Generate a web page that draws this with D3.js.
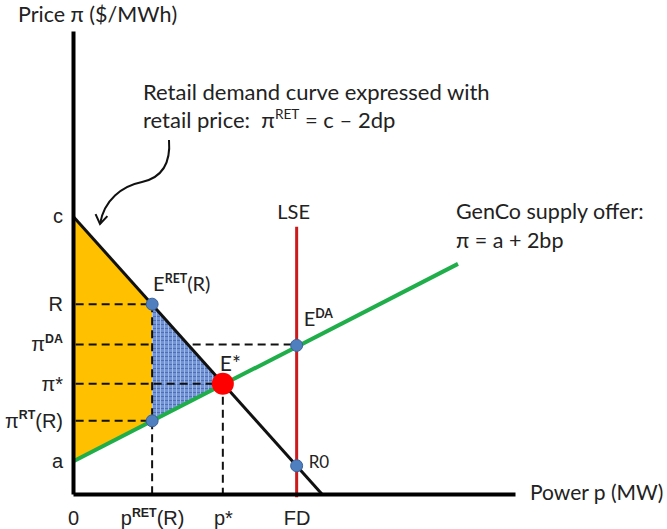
<!DOCTYPE html>
<html>
<head>
<meta charset="utf-8">
<script src="https://cdn.jsdelivr.net/npm/d3@7"></script>
<style>
  body { margin: 0; background: #fff; }
  svg { font-family: Lato, "Open Sans", sans-serif; }
  text { white-space: pre; }
</style>
</head>
<body>
<svg id="chart" width="667" height="529"></svg>
<script>
// price axis labels (π, $/MWh) and where they sit
const yTickLabels = ['c', 'R', 'π^{DA}', 'π*', 'π^{RT}(R)', 'a'];
const yTickValues = [60, 41, 32.3, 23.8, 15.8, 7];
// power axis labels (p, MW)
const xTickLabels = ['0', 'p^{RET}(R)', 'p*', 'FD'];
const xTickValues = [0, 17.9, 33.9, 50.6];

// curves, as [p, π] end points
const demandLine = [[0, 60], [56.3, 0]];
const supplyLine = [[0, 7], [87.1, 49.7]];
const lseLine = [[50.6, 57.7], [50.6, -0.7]];

// marked points
const pointNames = ['E^{RET}(R)', '', 'E^{DA}', 'R0'];
const pointP = [17.9, 17.9, 50.6, 50.6];
const pointPi = [41, 15.8, 32.1, 6.1];
const eStar = [33.9, 23.8];

const FS = 20, NOTE = 21.5;
const svg = d3.select('#chart');
const x = d3.scaleLinear().domain([0, 100]).range([73, 515]);
const y = d3.scaleLinear().domain([0, 100]).range([494, 31]);
const line = d3.line().x(d => x(d[0])).y(d => y(d[1]));

// writes "π^{DA}" style text as tspans with a raised part
function richText(sel, str, fs, boldSup) {
    sel.text(null);
    let raised = false;
    str.split(/\^\{([^}]*)\}/).forEach((part, i) => {
        if (part === '') return;
        const t = sel.append('tspan').text(part);
        if (i % 2 === 1) {
            t.attr('font-size', fs * 0.62).attr('dy', -fs * 0.42)
             .attr('font-weight', boldSup ? 700 : null);
            raised = true;
        } else if (raised) {
            t.attr('dy', fs * 0.42);
            raised = false;
        }
    });
}

const defs = svg.append('defs');
const pat = defs.append('pattern').attr('id', 'weave')
    .attr('width', 4).attr('height', 4).attr('patternUnits', 'userSpaceOnUse');
pat.append('rect').attr('width', 4).attr('height', 4).attr('fill', '#7394d3');
pat.append('path').attr('d', 'M0,0.5H4').attr('stroke', '#4d6fb3').attr('stroke-width', 1);
pat.append('path').attr('d', 'M0.5,0V4').attr('stroke', '#a3bbea').attr('stroke-width', 1);
defs.append('marker').attr('id', 'arrow')
    .attr('viewBox', '-10 -7 12 14').attr('refX', 0).attr('refY', 0)
    .attr('markerWidth', 12).attr('markerHeight', 14)
    .attr('markerUnits', 'userSpaceOnUse').attr('orient', 'auto')
    .append('path').attr('d', 'M-9,-6L0,0L-9,6')
    .attr('fill', 'none').attr('stroke', '#111').attr('stroke-width', 2);

// consumer area (yellow) and the woven triangle
const yellowArea = [[0, demandLine[0][1]], [pointP[0], pointPi[0]], [pointP[1], pointPi[1]], [0, supplyLine[0][1]]];
const blueArea = [[pointP[0], pointPi[0]], eStar, [pointP[1], pointPi[1]]];

svg.append('path').attr('d', line(yellowArea) + 'Z').attr('fill', '#ffc000');

const dash = (pts) => svg.append('path').attr('d', line(pts))
    .attr('fill', 'none').attr('stroke', '#111')
    .attr('stroke-width', 2).attr('stroke-dasharray', '8,5');

dash([[0.6, yTickValues[2]], [pointP[2], yTickValues[2]]]);
svg.append('path').attr('d', line(blueArea) + 'Z').attr('fill', 'url(#weave)');
dash([[0.6, pointPi[0]], [pointP[0], pointPi[0]]]);
dash([[0.6, eStar[1]], eStar]);
dash([[0.6, pointPi[1]], [pointP[1], pointPi[1]]]);
dash([[pointP[0], pointPi[0]], [pointP[0], 0]]);
dash([eStar, [eStar[0], 0]]);

svg.append('path').attr('d', line(demandLine)).attr('stroke', '#111').attr('stroke-width', 3);
svg.append('path').attr('d', line(supplyLine)).attr('stroke', '#1fae4a').attr('stroke-width', 4);
svg.append('path').attr('d', line(lseLine)).attr('stroke', '#cc1a1a').attr('stroke-width', 3);

// axes
const yAxis = d3.axisLeft(y).tickValues(yTickValues).tickSize(0).tickPadding(10)
    .tickFormat((d, i) => yTickLabels[i]);
const xAxis = d3.axisBottom(x).tickValues(xTickValues).tickSize(0).tickPadding(17)
    .tickFormat((d, i) => xTickLabels[i]);

const gy = svg.append('g').attr('transform', `translate(${x(0)},0)`).call(yAxis);
const gx = svg.append('g').attr('transform', `translate(0,${y(0)})`).call(xAxis);
[gx, gy].forEach(g => {
    g.select('.domain').attr('stroke', '#000').attr('stroke-width', 4);
    g.selectAll('text').attr('font-size', FS).attr('font-family', null).attr('fill', '#222')
        .each(function () { richText(d3.select(this), d3.select(this).text(), FS, true); });
});

// points
svg.selectAll('circle.pt').data(pointP).join('circle').attr('class', 'pt')
    .attr('cx', d => x(d)).attr('cy', (d, i) => y(pointPi[i])).attr('r', 6)
    .attr('fill', '#4f7fbf').attr('stroke', '#3a629c').attr('stroke-width', 1);
svg.append('circle').attr('cx', x(eStar[0])).attr('cy', y(eStar[1])).attr('r', 11).attr('fill', '#ff0000');

// point labels
const labelOffsets = [[1, -13, FS], null, [7, -19, FS], [12, 2, 17]];
pointNames.forEach((name, i) => {
    if (!name) return;
    const o = labelOffsets[i];
    svg.append('text').attr('x', x(pointP[i]) + o[0]).attr('y', y(pointPi[i]) + o[1])
        .attr('font-size', o[2]).attr('fill', '#222')
        .call(s => richText(s, name, o[2], true));
});
svg.append('text').attr('x', x(eStar[0]) - 3).attr('y', y(eStar[1]) - 13)
    .attr('font-size', 21).attr('fill', '#222').text('E*');
svg.append('text').attr('x', x(lseLine[0][0]) - 3).attr('y', y(lseLine[0][1]) - 8)
    .attr('text-anchor', 'middle').attr('font-size', FS).attr('fill', '#222').text('LSE');

// axis titles and notes
svg.append('text').attr('x', 18).attr('y', 22).attr('font-size', NOTE).attr('fill', '#222')
    .text('Price π ($/MWh)');
svg.append('text').attr('x', 530).attr('y', 500).attr('font-size', 21).attr('fill', '#222')
    .text('Power p (MW)');
svg.append('text').attr('x', 456).attr('y', 219).attr('font-size', NOTE).attr('fill', '#222')
    .text('GenCo supply offer:');
svg.append('text').attr('x', 456).attr('y', 248).attr('font-size', NOTE).attr('fill', '#222')
    .text('π = a + 2bp');
svg.append('text').attr('x', 143).attr('y', 100).attr('font-size', 22).attr('fill', '#222')
    .text('Retail demand curve expressed with');
svg.append('text').attr('x', 143).attr('y', 128).attr('font-size', 22).attr('fill', '#222')
    .call(s => richText(s, 'retail price:  π^{RET} = c – 2dp', 22, false));

svg.append('path')
    .attr('d', 'M169,140C171,165 160,178 142,182C122,186 104,200 100,224')
    .attr('fill', 'none').attr('stroke', '#111').attr('stroke-width', 2)
    .attr('marker-end', 'url(#arrow)');
</script>
</body>
</html>
